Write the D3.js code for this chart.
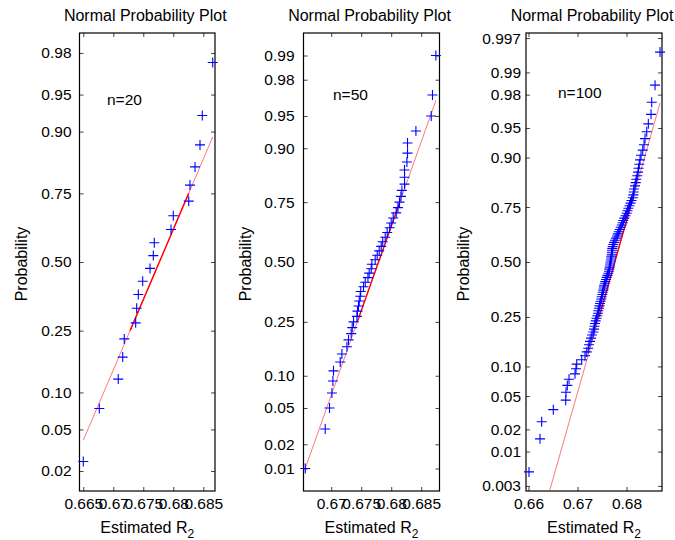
<!DOCTYPE html>
<html>
<head>
<meta charset="utf-8">
<script src="https://cdn.jsdelivr.net/npm/d3@7"></script>
<style>
  body { margin: 0; background: #fff; }
  text { font-family: "Liberation Sans", Arial, sans-serif; fill: #000; }
</style>
</head>
<body>
<script>
// Sorted estimates of R2, one array per sample size
const r2n20 = [0.665, 0.66767, 0.67083, 0.67157, 0.67183, 0.67373, 0.6739, 0.67417, 0.6749, 0.67612,
    0.67667, 0.67683, 0.67962, 0.68, 0.68257, 0.68278, 0.68362, 0.68445, 0.68483, 0.68657];

const r2n50 = [0.66567, 0.6690, 0.66972, 0.67012, 0.67028, 0.67038, 0.6715, 0.67178, 0.67262, 0.67288,
    0.67333, 0.6735, 0.67372, 0.67428, 0.67438, 0.67455, 0.67467, 0.67483, 0.67492, 0.67538,
    0.67567, 0.67612, 0.67633, 0.67667, 0.67678, 0.67733, 0.67767, 0.678, 0.67833, 0.67858,
    0.679, 0.67933, 0.67975, 0.68, 0.68033, 0.68083, 0.68112, 0.68138, 0.68162, 0.68178,
    0.68222, 0.68222, 0.68222, 0.68262, 0.68272, 0.68272, 0.68412, 0.68667, 0.68688, 0.68745];

const r2n100 = [0.6601, 0.66235, 0.66269, 0.66506, 0.66759, 0.66765, 0.66792, 0.66827, 0.66949, 0.66969,
    0.66984, 0.67086, 0.67153, 0.67188, 0.6722, 0.67235, 0.67255, 0.67276, 0.67296, 0.67322,
    0.67337, 0.67347, 0.67357, 0.67371, 0.67388, 0.67404, 0.67418, 0.67424, 0.67439, 0.67449,
    0.67459, 0.67473, 0.67486, 0.67494, 0.67506, 0.67514, 0.67527, 0.67535, 0.67541, 0.67555,
    0.67567, 0.67582, 0.67596, 0.67612, 0.67629, 0.67643, 0.67649, 0.67657, 0.67663, 0.67669,
    0.67678, 0.67684, 0.6769, 0.67698, 0.67698, 0.67704, 0.6771, 0.67718, 0.67731, 0.67745,
    0.67765, 0.67786, 0.67806, 0.6782, 0.67841, 0.67861, 0.67882, 0.67902, 0.67922, 0.67935,
    0.67955, 0.6798, 0.68004, 0.6802, 0.68037, 0.68061, 0.68082, 0.68102, 0.68127, 0.68139,
    0.68147, 0.68153, 0.68173, 0.68188, 0.682, 0.6822, 0.68235, 0.68245, 0.68261, 0.68276,
    0.68296, 0.68331, 0.68357, 0.68378, 0.68412, 0.68445, 0.685, 0.68514, 0.68582, 0.68684];

// probability tick labels
const probTicks20 = [0.02, 0.05, 0.10, 0.25, 0.50, 0.75, 0.90, 0.95, 0.98];
const probTicks50 = [0.01, 0.02, 0.05, 0.10, 0.25, 0.50, 0.75, 0.90, 0.95, 0.98, 0.99];
const probTicks100 = [0.003, 0.01, 0.02, 0.05, 0.10, 0.25, 0.50, 0.75, 0.90, 0.95, 0.98, 0.99, 0.997];

// x tick values
const xTicks20 = [0.665, 0.67, 0.675, 0.68, 0.685];
const xTicks50 = [0.67, 0.675, 0.68, 0.685];
const xTicks100 = [0.66, 0.67, 0.68];

// reference line [mean, sd]
const fit20 = [0.67768, 0.007237];
const fit50 = [0.67789, 0.005255];
const fit100 = [0.6776, 0.004737];

const sampleLabels = ['n=20', 'n=50', 'n=100'];

const width = 675;
const height = 540;
const plotTop = 33, plotBottom = 491;

// inverse normal cdf (Acklam)
function probit(p) {
    const a = [-3.969683028665376e+01, 2.209460984245205e+02, -2.759285104469687e+02,
        1.383577518672690e+02, -3.066479806614716e+01, 2.506628277459239e+00];
    const b = [-5.447609879822406e+01, 1.615858368580409e+02, -1.556989798598866e+02,
        6.680131188771972e+01, -1.328068155288572e+01];
    const c = [-7.784894002430293e-03, -3.223964580411365e-01, -2.400758277161838e+00,
        -2.549671010115290e+00, 4.374664141464968e+00, 2.938163982698783e+00];
    const d = [7.784695709041462e-03, 3.224671290700398e-01, 2.445134137142996e+00,
        3.754408661907416e+00];
    const pl = 0.02425;
    let q, r;
    if (p < pl) {
        q = Math.sqrt(-2 * Math.log(p));
        return (((((c[0] * q + c[1]) * q + c[2]) * q + c[3]) * q + c[4]) * q + c[5]) /
            ((((d[0] * q + d[1]) * q + d[2]) * q + d[3]) * q + 1);
    } else if (p <= 1 - pl) {
        q = p - 0.5; r = q * q;
        return (((((a[0] * r + a[1]) * r + a[2]) * r + a[3]) * r + a[4]) * r + a[5]) * q /
            (((((b[0] * r + b[1]) * r + b[2]) * r + b[3]) * r + b[4]) * r + 1);
    }
    q = Math.sqrt(-2 * Math.log(1 - p));
    return -(((((c[0] * q + c[1]) * q + c[2]) * q + c[3]) * q + c[4]) * q + c[5]) /
        ((((d[0] * q + d[1]) * q + d[2]) * q + d[3]) * q + 1);
}

const panels = [
    { data: r2n20, fit: fit20, probTicks: probTicks20, xTicks: xTicks20, label: sampleLabels[0],
      left: 79.5, right: 215, xDomain: [0.66437, 0.68695], yLim: 2.25, gap: 8, labelPos: [107, 105], yLabelX: 21.5 },
    { data: r2n50, fit: fit50, probTicks: probTicks50, xTicks: xTicks50, label: sampleLabels[1],
      left: 303.5, right: 439.5, xDomain: [0.66538, 0.68805], yLim: 2.58, gap: 9, labelPos: [333, 100], yLabelX: 245 },
    { data: r2n100, fit: fit100, probTicks: probTicks100, xTicks: xTicks100, label: sampleLabels[2],
      left: 526, right: 662, xDomain: [0.65949, 0.68724], yLim: 2.81, gap: 5, labelPos: [558, 98], yLabelX: 463 }
];

const svg = d3.select('body')
    .append('svg')
    .attr('width', width)
    .attr('height', height);

const fmtProb = p => Math.abs(p * 100 - Math.round(p * 100)) < 1e-9 ? p.toFixed(2) : p.toFixed(3);

panels.forEach((pn, k) => {
    const g = svg.append('g');
    const xScale = d3.scaleLinear().domain(pn.xDomain).range([pn.left, pn.right]);
    const yScale = d3.scaleLinear().domain([-pn.yLim, pn.yLim]).range([plotBottom, plotTop]);
    const n = pn.data.length;
    const cx = (pn.left + pn.right) / 2;

    // clip for the reference line
    svg.append('clipPath').attr('id', 'clip' + k)
        .append('rect')
        .attr('x', pn.left).attr('y', plotTop)
        .attr('width', pn.right - pn.left).attr('height', plotBottom - plotTop);

    const probVals = pn.probTicks.map(probit);

    // inside ticks on all four sides
    const tickStyle = sel => {
        sel.select('.domain').remove();
        sel.selectAll('.tick line').attr('stroke', '#444');
        sel.selectAll('.tick text')
            .style('font-family', '"Liberation Sans", Arial, sans-serif')
            .style('font-size', '15.5px')
            .attr('fill', '#000');
    };

    g.append('g')
        .attr('transform', `translate(0,${plotBottom})`)
        .call(d3.axisBottom(xScale).tickValues(pn.xTicks).tickSize(-4).tickPadding(7)
            .tickFormat(d => String(d)))
        .call(tickStyle);
    g.append('g')
        .attr('transform', `translate(0,${plotTop})`)
        .call(d3.axisTop(xScale).tickValues(pn.xTicks).tickSize(-4).tickFormat(''))
        .call(tickStyle);
    g.append('g')
        .attr('transform', `translate(${pn.left},0)`)
        .call(d3.axisLeft(yScale).tickValues(probVals).tickSize(-4).tickPadding(pn.gap)
            .tickFormat((d, i) => fmtProb(pn.probTicks[i])))
        .call(tickStyle);
    g.append('g')
        .attr('transform', `translate(${pn.right},0)`)
        .call(d3.axisRight(yScale).tickValues(probVals).tickSize(-4).tickFormat(''))
        .call(tickStyle);

    // axes box
    g.append('rect')
        .attr('x', pn.left).attr('y', plotTop)
        .attr('width', pn.right - pn.left).attr('height', plotBottom - plotTop)
        .attr('fill', 'none')
        .attr('stroke', '#000')
        .attr('stroke-width', 1.2);

    // reference line: solid between quartiles, lighter extension to the data range
    const [mu, sd] = pn.fit;
    const line = d3.line().x(d => xScale(d)).y(d => yScale((d - mu) / sd));
    const lo = d3.min(pn.data), hi = d3.max(pn.data);
    const q1 = mu - 0.6745 * sd, q3 = mu + 0.6745 * sd;
    const lineG = g.append('g').attr('clip-path', `url(#clip${k})`);
    lineG.append('path')
        .attr('d', line([lo, hi]))
        .attr('fill', 'none')
        .attr('stroke', '#ff0000')
        .attr('stroke-opacity', 0.6)
        .attr('stroke-width', 0.9);
    lineG.append('path')
        .attr('d', line([q1, q3]))
        .attr('fill', 'none')
        .attr('stroke', '#ff0000')
        .attr('stroke-width', 1.4);

    // data markers
    const s = 5;
    g.append('g').selectAll('path.pt')
        .data(pn.data)
        .enter()
        .append('path')
        .attr('class', 'pt')
        .attr('d', (d, i) => {
            const x = xScale(d), y = yScale(probit((i + 0.5) / n));
            return `M${x - s},${y}H${x + s}M${x},${y - s}V${y + s}`;
        })
        .attr('fill', 'none')
        .attr('stroke', '#0000ff')
        .attr('stroke-width', 1.1);

    // sample size label
    g.append('text')
        .attr('x', pn.labelPos[0])
        .attr('y', pn.labelPos[1])
        .style('font-size', '15.5px')
        .text(pn.label);

    // title
    g.append('text')
        .attr('x', cx - 2)
        .attr('y', 21)
        .attr('text-anchor', 'middle')
        .style('font-size', '16px')
        .text('Normal Probability Plot');

    // x label with subscript
    const xl = g.append('text')
        .attr('x', cx)
        .attr('y', 533)
        .attr('text-anchor', 'middle')
        .style('font-size', '16px');
    xl.append('tspan').text('Estimated R');
    xl.append('tspan').attr('dy', 5).style('font-size', '12px').text('2');

    // y label
    g.append('text')
        .attr('transform', `translate(${pn.yLabelX},${(plotTop + plotBottom) / 2 + 2}) rotate(-90)`)
        .attr('text-anchor', 'middle')
        .attr('dy', '0.35em')
        .style('font-size', '16px')
        .text('Probability');
});
</script>
</body>
</html>
